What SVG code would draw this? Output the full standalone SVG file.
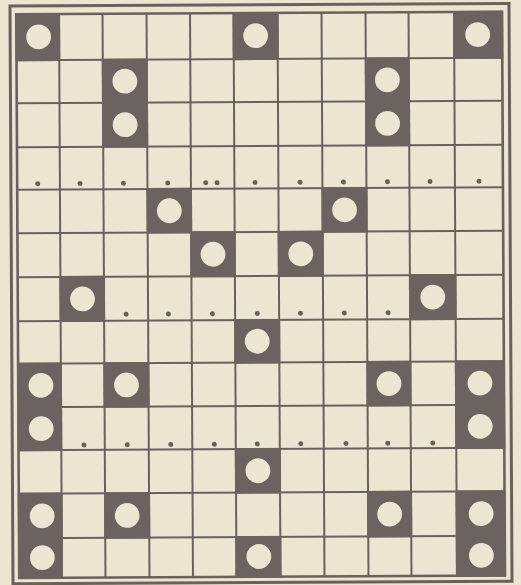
<svg xmlns="http://www.w3.org/2000/svg" width="521" height="585" viewBox="0 0 521 585">
<style>
.bg{fill:#ebe5d2}
.frame{fill:none;stroke:#6a615d}
.grid line{stroke:#6a615d;stroke-width:2}
.dark rect{fill:#6b635f}
.dark circle{fill:#ebe5d2}
.dots circle{fill:#6a5f5b}
</style>
<rect class="bg" x="0" y="0" width="521" height="585"/>
<g transform="rotate(-0.3 260.6 295)">
<g id="frame">
<rect class="frame" x="11.5" y="4.8" width="499" height="577.7" stroke-width="3"/>
<rect class="frame" x="17.75" y="13" width="485.75" height="563.75" stroke-width="2.6"/>
</g>
<g id="grid" class="grid">
<line x1="60.5" y1="13" x2="60.5" y2="576.75"/>
<line x1="104" y1="13" x2="104" y2="576.75"/>
<line x1="148" y1="13" x2="148" y2="576.75"/>
<line x1="191.5" y1="13" x2="191.5" y2="576.75"/>
<line x1="235" y1="13" x2="235" y2="576.75"/>
<line x1="279" y1="13" x2="279" y2="576.75"/>
<line x1="323" y1="13" x2="323" y2="576.75"/>
<line x1="367" y1="13" x2="367" y2="576.75"/>
<line x1="410" y1="13" x2="410" y2="576.75"/>
<line x1="455.5" y1="13" x2="455.5" y2="576.75"/>
<line x1="17.75" y1="59" x2="503.5" y2="59"/>
<line x1="17.75" y1="102" x2="503.5" y2="102"/>
<line x1="17.75" y1="146" x2="503.5" y2="146"/>
<line x1="17.75" y1="188.5" x2="503.5" y2="188.5"/>
<line x1="17.75" y1="232" x2="503.5" y2="232"/>
<line x1="17.75" y1="276" x2="503.5" y2="276"/>
<line x1="17.75" y1="320" x2="503.5" y2="320"/>
<line x1="17.75" y1="362.5" x2="503.5" y2="362.5"/>
<line x1="17.75" y1="406" x2="503.5" y2="406"/>
<line x1="17.75" y1="449" x2="503.5" y2="449"/>
<line x1="17.75" y1="492.5" x2="503.5" y2="492.5"/>
<line x1="17.75" y1="537" x2="503.5" y2="537"/>
</g>
<g id="c0r0" class="dark"><rect x="16.75" y="12" width="44.75" height="48"/><circle cx="40" cy="35.7" r="12.4"/></g>
<g id="c5r0" class="dark"><rect x="234" y="12" width="46" height="48"/><circle cx="257" cy="35.7" r="12.4"/></g>
<g id="c10r0" class="dark"><rect x="454.5" y="12" width="50" height="48"/><circle cx="479" cy="35.7" r="12.4"/></g>
<g id="c2r1" class="dark"><rect x="103" y="58" width="46" height="89"/><circle cx="126" cy="80.5" r="12.4"/><circle cx="126" cy="124" r="12.4"/></g>
<g id="c8r1" class="dark"><rect x="366" y="58" width="45" height="89"/><circle cx="388.5" cy="80.5" r="12.4"/><circle cx="388.5" cy="124" r="12.4"/></g>
<g id="c3r4" class="dark"><rect x="147" y="187.5" width="45.5" height="45.5"/><circle cx="169.75" cy="210.25" r="12.4"/></g>
<g id="c7r4" class="dark"><rect x="322" y="187.5" width="46" height="45.5"/><circle cx="345" cy="210.25" r="12.4"/></g>
<g id="c4r5" class="dark"><rect x="190.5" y="231" width="45.5" height="46"/><circle cx="213.25" cy="254" r="12.4"/></g>
<g id="c6r5" class="dark"><rect x="278" y="231" width="46" height="46"/><circle cx="301" cy="254" r="12.4"/></g>
<g id="c1r6" class="dark"><rect x="59.5" y="275" width="45.5" height="46"/><circle cx="82.5" cy="298" r="12.4"/></g>
<g id="c9r6" class="dark"><rect x="409" y="275" width="47.5" height="46"/><circle cx="432.75" cy="298" r="12.4"/></g>
<g id="c5r7" class="dark"><rect x="234" y="319" width="46" height="44.5"/><circle cx="257" cy="341.25" r="12.4"/></g>
<g id="c0r8" class="dark"><rect x="16.75" y="361.5" width="44.75" height="88.5"/><circle cx="40.5" cy="384.25" r="12.4"/><circle cx="40.5" cy="427.5" r="12.4"/></g>
<g id="c2r8" class="dark"><rect x="103" y="361.5" width="46" height="45.5"/><circle cx="126" cy="384.25" r="12.4"/></g>
<g id="c8r8" class="dark"><rect x="366" y="361.5" width="45" height="45.5"/><circle cx="388.5" cy="384.25" r="12.4"/></g>
<g id="c10r8" class="dark"><rect x="454.5" y="361.5" width="50" height="88.5"/><circle cx="479.5" cy="384.25" r="12.4"/><circle cx="479.5" cy="427.5" r="12.4"/></g>
<g id="c5r10" class="dark"><rect x="234" y="448" width="46" height="45.5"/><circle cx="257" cy="470.75" r="12.4"/></g>
<g id="c0r11" class="dark"><rect x="16.75" y="491.5" width="44.75" height="86.25"/><circle cx="41" cy="514.75" r="12.4"/><circle cx="41" cy="556.5" r="12.4"/></g>
<g id="c2r11" class="dark"><rect x="103" y="491.5" width="46" height="46.5"/><circle cx="126" cy="514.75" r="12.4"/></g>
<g id="c8r11" class="dark"><rect x="366" y="491.5" width="45" height="46.5"/><circle cx="388.5" cy="514.75" r="12.4"/></g>
<g id="c10r11" class="dark"><rect x="454.5" y="491.5" width="50" height="86.25"/><circle cx="480" cy="514.75" r="12.4"/><circle cx="480" cy="556.5" r="12.4"/></g>
<g id="c5r12" class="dark"><rect x="234" y="536" width="46" height="41.75"/><circle cx="257.5" cy="556.5" r="12.4"/></g>
<g id="dots" class="dots">
<circle cx="38.3" cy="182.5" r="2.5"/><circle cx="80.6" cy="182.5" r="2.5"/><circle cx="124" cy="182.5" r="2.5"/><circle cx="168.3" cy="182.5" r="2.5"/><circle cx="206.3" cy="182.5" r="2.5"/><circle cx="217.6" cy="182.5" r="2.5"/><circle cx="255.6" cy="182.5" r="2.5"/><circle cx="300.6" cy="182.5" r="2.5"/><circle cx="344" cy="182.5" r="2.5"/><circle cx="388" cy="182.5" r="2.5"/><circle cx="430.6" cy="182.5" r="2.5"/><circle cx="479.6" cy="182.5" r="2.5"/>
<circle cx="126" cy="313.5" r="2.5"/><circle cx="168.3" cy="313.5" r="2.5"/><circle cx="212.3" cy="313.5" r="2.5"/><circle cx="257.2" cy="313.5" r="2.5"/><circle cx="300.4" cy="313.5" r="2.5"/><circle cx="344.2" cy="313.5" r="2.5"/><circle cx="388" cy="313.5" r="2.5"/>
<circle cx="83.2" cy="444" r="2.5"/><circle cx="126.5" cy="444" r="2.5"/><circle cx="170" cy="444" r="2.5"/><circle cx="213.5" cy="444" r="2.5"/><circle cx="256.5" cy="444" r="2.5"/><circle cx="300" cy="444" r="2.5"/><circle cx="345.2" cy="444" r="2.5"/><circle cx="387" cy="444" r="2.5"/><circle cx="432" cy="444" r="2.5"/>
</g>
</g>
</svg>
